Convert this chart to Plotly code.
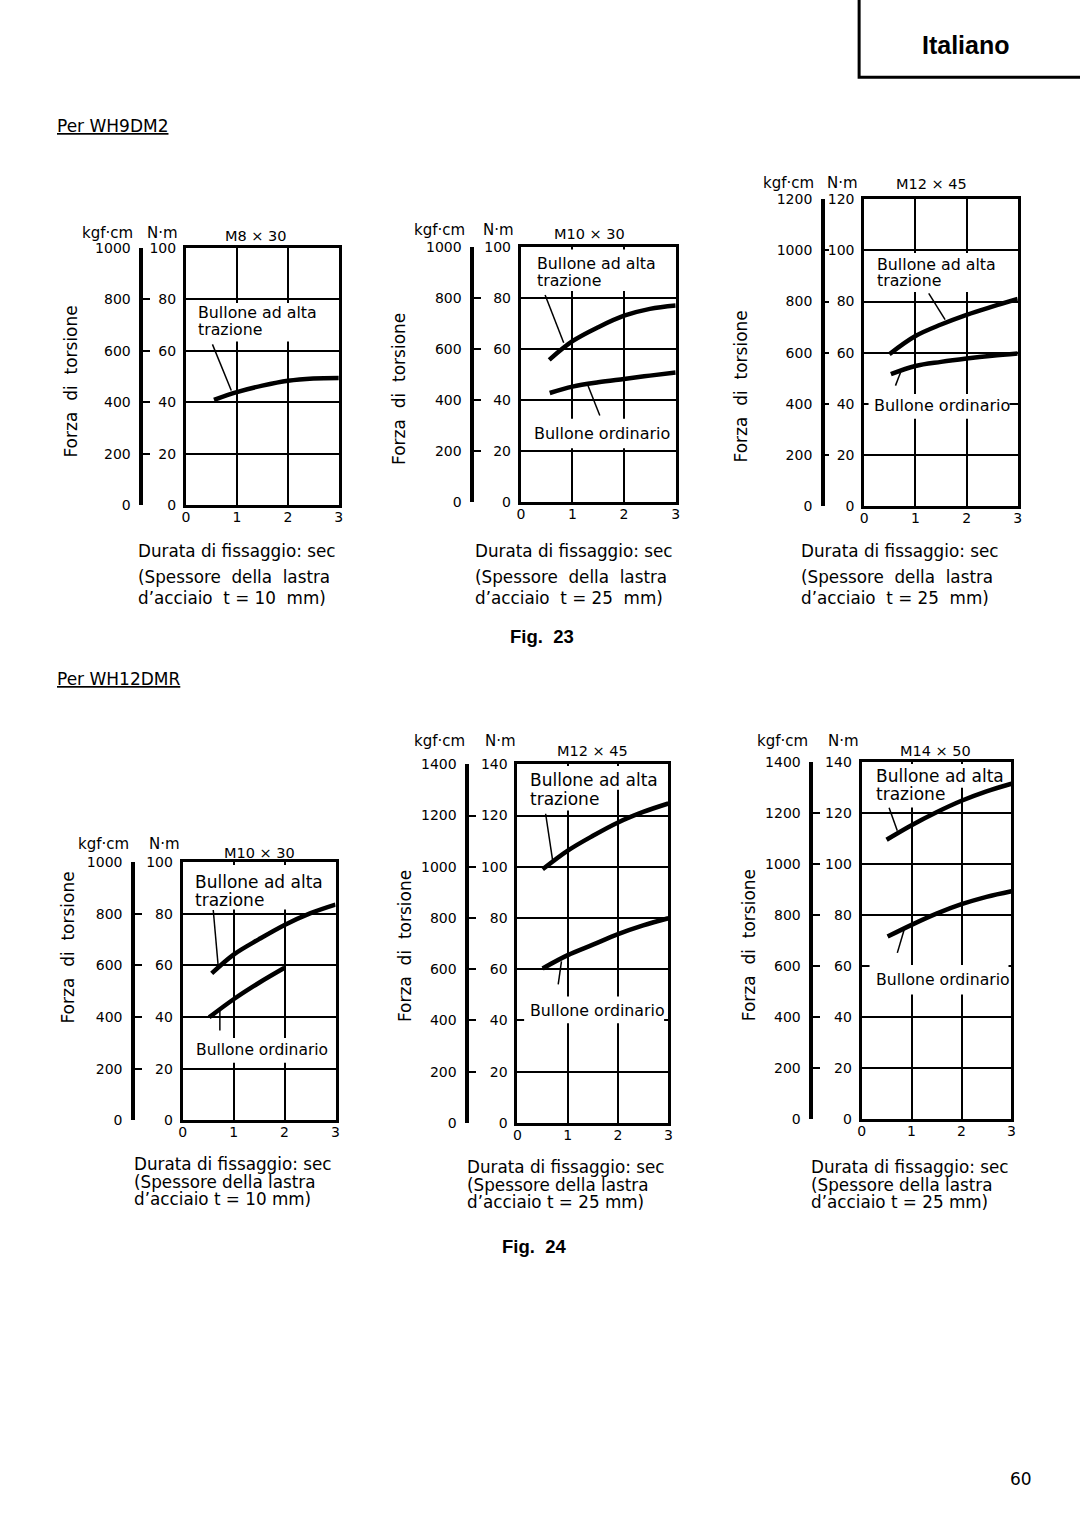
import plotly.graph_objects as go

W, H = 1080, 1529
REG = "DejaVu Sans"
BOLD = "Liberation Sans"

# ---------------- data ----------------
time_ticks = [0, 1, 2, 3]
panel_titles = ["M8 × 30", "M10 × 30", "M12 × 45", "M10 × 30", "M12 × 45", "M14 × 50"]
nm_max = [100, 100, 120, 100, 140, 140]
kgf_max = [1000, 1000, 1200, 1000, 1400, 1400]
plate_mm = [10, 25, 25, 10, 25, 25]

# Fig. 23 - WH9DM2
p1_x_high = [0.55, 1.0, 1.5, 2.0, 2.5, 3.0]
p1_high = [41.0, 44.0, 46.5, 48.4, 49.3, 49.5]
p1_x_ord = []
p1_ord = []

p2_x_high = [0.55, 1.0, 1.5, 2.0, 2.5, 3.0]
p2_high = [55.8, 63.1, 68.6, 73.1, 75.8, 77.1]
p2_x_ord = [0.56, 1.0, 1.5, 2.0, 2.5, 3.0]
p2_ord = [42.8, 45.3, 47.0, 48.3, 49.6, 50.8]

p3_x_high = [0.49, 1.0, 1.5, 2.0, 2.5, 3.0]
p3_high = [59.4, 66.5, 71.0, 74.8, 78.0, 81.0]
p3_x_ord = [0.52, 1.0, 1.5, 2.0, 2.5, 3.0]
p3_ord = [51.6, 54.8, 56.4, 57.7, 58.8, 59.7]

# Fig. 24 - WH12DMR
p4_x_high = [0.57, 1.0, 1.5, 2.0, 2.5, 3.0]
p4_high = [56.9, 64.2, 70.2, 75.7, 80.2, 83.6]
p4_x_ord = [0.52, 1.0, 1.5, 2.0]
p4_ord = [39.9, 46.9, 53.3, 59.1]

p5_x_high = [0.5, 1.0, 1.5, 2.0, 2.5, 3.0]
p5_high = [99.0, 106.3, 112.1, 117.3, 121.4, 124.7]
p5_x_ord = [0.5, 1.0, 1.5, 2.0, 2.5, 3.0]
p5_ord = [60.3, 65.5, 69.6, 73.7, 77.1, 79.9]

p6_x_high = [0.5, 1.0, 1.5, 2.0, 2.5, 3.0]
p6_high = [109.6, 115.3, 120.4, 124.9, 128.6, 131.6]
p6_x_ord = [0.52, 1.0, 1.5, 2.0, 2.5, 3.0]
p6_ord = [71.6, 76.2, 80.6, 84.3, 87.2, 89.4]

series = [
    (p1_x_high, p1_high, p1_x_ord, p1_ord),
    (p2_x_high, p2_high, p2_x_ord, p2_ord),
    (p3_x_high, p3_high, p3_x_ord, p3_ord),
    (p4_x_high, p4_high, p4_x_ord, p4_ord),
    (p5_x_high, p5_high, p5_x_ord, p5_ord),
    (p6_x_high, p6_high, p6_x_ord, p6_ord),
]

# ---------------- layout geometry (pixels) ----------------
panels = [
    dict(frame=(183.3, 242.3, 337.3, 502.7), kgf_x=138.3, ytitle=(68, 377),
         kgf_lbl=(104, 227), nm_lbl=(159.5, 227), title=(254, 230.5),
         cap_x=133, cap_y=(549, 575, 596), fs_hi=15.8, fs_ord=16, ticklen=7,
         hi_txt=(193.3, 308, 325), ord_txt=None,
         masks=[(190, 298, 313, 337)],
         hi_lead=[(0.52, 62.5), (0.89, 44.6)], ord_lead=None),
    dict(frame=(520.7, 241.7, 676.7, 499.3), kgf_x=471.7, ytitle=(398, 385),
         kgf_lbl=(439, 224), nm_lbl=(498, 224), title=(590, 228.3),
         cap_x=472, cap_y=(549, 575, 596), fs_hi=15.8, fs_ord=16, ticklen=7,
         hi_txt=(535, 258.5, 275), ord_txt=(531.7, 430),
         masks=[(532, 244, 655, 286), (529, 415, 669, 445)],
         hi_lead=[(0.47, 81.2), (0.83, 62.5)], ord_lead=[(1.30, 45.7), (1.53, 34.0)]),
    dict(frame=(866.7, 193.3, 1021.3, 503.3), kgf_x=825, ytitle=(742, 383),
         kgf_lbl=(790, 176.7), nm_lbl=(845, 176.7), title=(934, 178.3),
         cap_x=801, cap_y=(549, 575, 596), fs_hi=15.8, fs_ord=16, ticklen=4,
         hi_txt=(877.7, 259, 275.7), ord_txt=(874.3, 401.7),
         masks=[(874, 247.5, 997, 287), (871, 390, 1013, 415)],
         hi_lead=[(1.26, 83.2), (1.58, 72.9)], ord_lead=[(0.61, 47.1), (0.71, 52.3)]),
    dict(frame=(180, 863.3, 334, 1124), kgf_x=130, ytitle=(65, 950),
         kgf_lbl=(100, 845), nm_lbl=(162, 845), title=(257, 854),
         cap_x=129, cap_y=(1168, 1186, 1204), fs_hi=17, fs_ord=15.5, ticklen=7,
         hi_txt=(190, 883, 901), ord_txt=(191.7, 1053.3),
         masks=[(187, 866, 323, 911), (188, 1041, 328, 1066)],
         hi_lead=[(0.60, 81.5), (0.70, 59.1)], ord_lead=[(0.73, 34.8), (0.73, 42.5)]),
    dict(frame=(517.3, 764.3, 669.3, 1126.7), kgf_x=466.7, ytitle=(404, 948),
         kgf_lbl=(439, 740.7), nm_lbl=(500, 740.7), title=(592.5, 750.7),
         cap_x=464, cap_y=(1171, 1189, 1207), fs_hi=17, fs_ord=15.8, ticklen=7,
         hi_txt=(528.3, 780, 799), ord_txt=(528, 1012.7),
         masks=[(525, 766, 660, 790), (525, 789, 594, 811), (524, 999, 665, 1026)],
         hi_lead=[(0.56, 120.7), (0.70, 102.4)], ord_lead=[(0.81, 54.1), (0.875, 63.1)]),
    dict(frame=(864, 762.3, 1015, 1122.7), kgf_x=813.3, ytitle=(750, 946.7),
         kgf_lbl=(784.7, 740.7), nm_lbl=(846, 740.7), title=(938, 750.7),
         cap_x=810.7, cap_y=(1171, 1189, 1207), fs_hi=17, fs_ord=15.7, ticklen=7,
         hi_txt=(876.7, 776.5, 794.5), ord_txt=(876.7, 982),
         masks=[(873, 764, 1006, 788), (873, 785, 942, 808), (872, 967, 1012, 997)],
         hi_lead=[(0.55, 122.2), (0.715, 113.1)], ord_lead=[(0.715, 65.2), (0.85, 74.2)]),
]


def X(px):
    return px / W


def Y(py):
    return 1 - py / H


annotations = []
shapes = []


def ann(text, px, py, size, xanchor="left", yanchor="middle", family=REG, angle=0):
    annotations.append(dict(
        text=text, x=X(px), y=Y(py), xref="paper", yref="paper",
        xanchor=xanchor, yanchor=yanchor, showarrow=False,
        font=dict(family=family, size=size, color="black"), textangle=angle))


fig = go.Figure()
layout = {}

for k, p in enumerate(panels):
    xn = k + 1
    yn_nm = 2 * k + 1
    yn_kg = 2 * k + 2
    xref = "x" if xn == 1 else f"x{xn}"
    yref_nm = "y" if yn_nm == 1 else f"y{yn_nm}"
    yref_kg = f"y{yn_kg}"
    xkey = "xaxis" if xn == 1 else f"xaxis{xn}"
    ykey_nm = "yaxis" if yn_nm == 1 else f"yaxis{yn_nm}"
    ykey_kg = f"yaxis{yn_kg}"

    l, t, r, b = p["frame"]

    def dx(px, l=l, r=r):
        return (px - l) / (r - l) * 3

    def dy(py, t=t, b=b, top=nm_max[k]):
        return (b - py) / (b - t) * top

    layout[xkey] = dict(
        domain=[X(l), X(r)], anchor=yref_nm, range=[0, 3],
        tickvals=time_ticks, ticktext=[str(v) for v in time_ticks],
        showgrid=True, gridcolor="black", gridwidth=1.5, zeroline=False,
        showline=True, linecolor="black", linewidth=3, mirror=True,
        ticks="", ticklen=0, ticklabelstandoff=-3,
        tickfont=dict(family=REG, size=14, color="black"), fixedrange=True)
    layout[ykey_nm] = dict(
        domain=[Y(b), Y(t)], anchor=xref, range=[0, nm_max[k]],
        tickvals=list(range(0, nm_max[k] + 1, 20)),
        showgrid=True, gridcolor="black", gridwidth=1.5, zeroline=False,
        showline=True, linecolor="black", linewidth=3, mirror=True,
        ticks="", ticklen=0, ticklabelstandoff=4,
        tickfont=dict(family=REG, size=14, color="black"), fixedrange=True)
    layout[ykey_kg] = dict(
        overlaying=yref_nm, anchor="free", position=X(p["kgf_x"]), side="left",
        range=[0, kgf_max[k]], tickvals=list(range(0, kgf_max[k] + 1, 200)),
        showgrid=False, zeroline=False, showline=True, linecolor="black",
        linewidth=3.5, ticks="inside", ticklen=p["ticklen"], tickwidth=2,
        tickcolor="black", ticklabelstandoff=6,
        tickfont=dict(family=REG, size=14, color="black"), fixedrange=True)

    xh, yh, xo, yo = series[k]
    fig.add_trace(go.Scatter(x=xh, y=yh, xaxis=xref, yaxis=yref_nm, mode="lines",
                             line=dict(color="black", width=4.5, shape="spline"),
                             showlegend=False, hoverinfo="skip"))
    if xo:
        fig.add_trace(go.Scatter(x=xo, y=yo, xaxis=xref, yaxis=yref_nm, mode="lines",
                                 line=dict(color="black", width=4.5, shape="spline"),
                                 showlegend=False, hoverinfo="skip"))
    # invisible trace so the kgf axis is drawn
    fig.add_trace(go.Scatter(x=[None], y=[None], xaxis=xref, yaxis=yref_kg,
                             mode="lines", showlegend=False, hoverinfo="skip"))

    # white masks behind the labels: above gridlines, below the curves
    for (mx0, my0, mx1, my1) in p["masks"]:
        shapes.append(dict(type="rect", xref=xref, yref=yref_nm, layer="between",
                           x0=dx(mx0), x1=dx(mx1), y0=dy(my1), y1=dy(my0),
                           fillcolor="white", line=dict(width=0)))

    # leader lines
    for lead in (p["hi_lead"], p["ord_lead"]):
        if lead:
            (x0, y0), (x1, y1) = lead
            shapes.append(dict(type="line", xref=xref, yref=yref_nm,
                               x0=x0, y0=y0, x1=x1, y1=y1,
                               line=dict(color="black", width=1.5)))

    hx, hy1, hy2 = p["hi_txt"]
    ann("Bullone ad alta", hx, hy1, p["fs_hi"])
    ann("trazione", hx, hy2, p["fs_hi"])
    if p["ord_txt"]:
        ox, oy = p["ord_txt"]
        ann("Bullone ordinario", ox, oy, p["fs_ord"])

    # headers
    ann("kgf·cm", p["kgf_lbl"][0], p["kgf_lbl"][1], 15, xanchor="center")
    ann("N·m", p["nm_lbl"][0], p["nm_lbl"][1], 15, xanchor="center")
    ann(panel_titles[k], p["title"][0], p["title"][1], 14.5, xanchor="center")

    # y title
    ann("Forza\u00a0 di\u00a0 torsione", p["ytitle"][0], p["ytitle"][1], 17,
        xanchor="center", angle=-90)

    # captions
    cy1, cy2, cy3 = p["cap_y"]
    if k < 3:
        l2 = "(Spessore\u00a0 della\u00a0 lastra"
        l3 = f"d\u2019acciaio\u00a0 t = {plate_mm[k]}\u00a0 mm)"
    else:
        l2 = "(Spessore della lastra"
        l3 = f"d\u2019acciaio t = {plate_mm[k]} mm)"
    ann("Durata di fissaggio: sec", p["cap_x"], cy1, 16.8)
    ann(l2, p["cap_x"], cy2, 16.8)
    ann(l3, p["cap_x"], cy3, 16.8)

# page texts
ann("<u>Per WH9DM2</u>", 51.7, 119.3, 17)
ann("<u>Per WH12DMR</u>", 51.7, 678, 17)
ann("<b>Fig.\u00a0 23</b>", 542, 635, 18.5, xanchor="center", family=BOLD)
ann("<b>Fig.\u00a0 24</b>", 534, 1252, 18.5, xanchor="center", family=BOLD)
ann("60", 1025, 1487, 17, xanchor="center")
ann("<b>Italiano</b>", 969.5, 37, 25, xanchor="center", family=BOLD)

shapes.append(dict(type="rect", xref="paper", yref="paper",
                   x0=X(861.5), x1=X(1090), y0=Y(70), y1=Y(-10),
                   line=dict(color="black", width=3)))

layout.update(dict(
    width=W, height=H, autosize=False,
    margin=dict(l=0, r=0, t=0, b=0),
    paper_bgcolor="white", plot_bgcolor="white",
    showlegend=False, annotations=annotations, shapes=shapes,
    font=dict(family=REG, color="black"),
))
fig.update_layout(**layout)
fig.write_html(
    "out.html",
    config=dict(displayModeBar=False),
    post_script="document.body.style.margin='0';document.body.style.overflow='hidden';"
                "document.documentElement.style.overflow='hidden';",
)
